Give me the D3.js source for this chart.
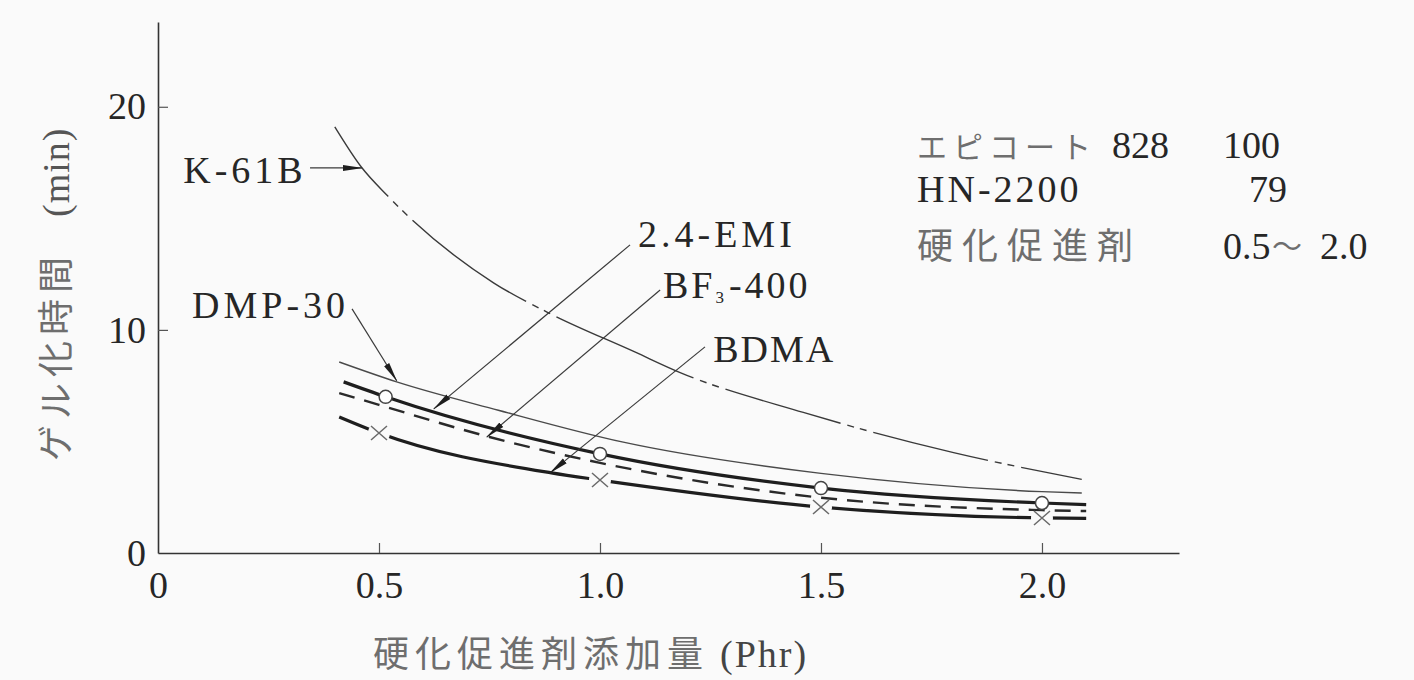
<!DOCTYPE html>
<html>
<head>
<meta charset="utf-8">
<script src="https://cdn.jsdelivr.net/npm/d3@7"></script>
<style>
  html, body { margin: 0; padding: 0; background: #fafafa; }
  svg { display: block; }
</style>
</head>
<body>
<svg id="chart" width="1414" height="680"></svg>
<script>
// Gel time (min) against accelerator loading (phr) for five cure accelerators

const xTicks = [0, 0.5, 1.0, 1.5, 2.0];
const xTickLabels = ["0", "0.5", "1.0", "1.5", "2.0"];
const yTicks = [0, 10, 20];
const yTickLabels = ["0", "10", "20"];

// K-61B (chain line)
const k61bX = [0.40, 0.46, 0.52, 0.76, 0.88, 1.08, 1.18, 1.46, 1.80, 2.09];
const k61bY = [19.1, 17.3, 16.0, 12.1, 10.8, 9.0, 8.1, 6.3, 4.5, 3.3];

// DMP-30 (thin solid)
const dmpX = [0.41, 0.54, 0.77, 1.05, 1.50, 2.00, 2.09];
const dmpY = [8.56, 7.67, 6.40, 4.98, 3.57, 2.75, 2.69];

// 2.4-EMI (heavy solid, open circles)
const emiX = [0.42, 0.515, 1.0, 1.5, 2.0, 2.1];
const emiY = [7.67, 7.0, 4.44, 2.91, 2.24, 2.17];
const emiMarkX = [0.515, 1.0, 1.5, 2.0];
const emiMarkY = [7.0, 4.44, 2.91, 2.24];

// BF3-400 (dashed)
const bf3X = [0.41, 0.50, 0.75, 1.0, 1.5, 2.0, 2.1];
const bf3Y = [7.17, 6.64, 5.2, 4.04, 2.48, 1.92, 1.88];

// BDMA (heavy solid, crosses)
const bdmaX = [0.41, 0.50, 0.89, 1.0, 1.5, 2.0, 2.1];
const bdmaY = [6.1, 5.38, 3.59, 3.27, 2.06, 1.57, 1.55];
const bdmaMarkX = [0.5, 1.0, 1.5, 2.0];
const bdmaMarkY = [5.38, 3.27, 2.06, 1.57];

// Formulation table
const recipeNames = ["エピコート", "HN-2200", "硬化促進剤"];
const recipeNameSuffix = ["828", "", ""];
const recipeAmounts = ["100", "79", "0.5～2.0"];

const serif = "'Liberation Serif', 'DejaVu Serif', serif";
const cjk = "'Noto Sans CJK JP', 'Noto Sans CJK SC', sans-serif";
const ink = "#262626";
const grey = "#6e6e6e";

const svg = d3.select("#chart");
const x = d3.scaleLinear().domain([0, 2.31]).range([158, 1179]);
const y = d3.scaleLinear().domain([0, 23.8]).range([553, 22]);

const zip = (xs, ys) => xs.map((v, i) => [v, ys[i]]);
const line = d3.line().x(d => x(d[0])).y(d => y(d[1])).curve(d3.curveMonotoneX);

// arrowhead for leader lines
const defs = svg.append("defs");
defs.append("marker")
  .attr("id", "arrow")
  .attr("viewBox", "0 0 20 8")
  .attr("refX", 19).attr("refY", 4)
  .attr("markerWidth", 20).attr("markerHeight", 8)
  .attr("markerUnits", "userSpaceOnUse")
  .attr("orient", "auto")
  .append("path")
  .attr("d", "M0,1L20,4L0,7Z")
  .attr("fill", "#1e1e1e");

// gaps in the BDMA line around its crosses
const mask = defs.append("mask")
  .attr("id", "bdmaGaps")
  .attr("maskUnits", "userSpaceOnUse")
  .attr("x", 0).attr("y", 0).attr("width", 1414).attr("height", 680);
mask.append("rect").attr("width", 1414).attr("height", 680).attr("fill", "#fff");
mask.selectAll("circle").data(zip(bdmaMarkX, bdmaMarkY)).join("circle")
  .attr("cx", d => x(d[0])).attr("cy", d => y(d[1])).attr("r", 11).attr("fill", "#000");

// axes
const xAxis = d3.axisBottom(x)
  .tickValues(xTicks)
  .tickFormat((d, i) => xTickLabels[i])
  .tickSizeInner(-10).tickSizeOuter(0).tickPadding(18);
const gx = svg.append("g").attr("transform", `translate(0,${y(0)})`).call(xAxis);

const yAxis = d3.axisLeft(y)
  .tickValues(yTicks)
  .tickFormat((d, i) => yTickLabels[i])
  .tickSizeInner(-10).tickSizeOuter(0).tickPadding(12);
const gy = svg.append("g").attr("transform", `translate(${x(0)},0)`).call(yAxis);

[gx, gy].forEach(g => {
  g.select(".domain").attr("stroke", "#333").attr("stroke-width", 1.6);
  g.selectAll(".tick line").attr("stroke", "#555").attr("stroke-width", 1.2);
  g.selectAll(".tick text")
    .attr("font-family", serif).attr("font-size", 38).attr("fill", ink);
});
gx.selectAll(".tick").filter(d => d === 0).select("line").remove();
gy.selectAll(".tick").filter(d => d === 0).select("line").remove();
gy.selectAll(".tick text").attr("dy", "0.32em");

// curves
svg.append("path").datum(zip(k61bX, k61bY))
  .attr("d", line).attr("fill", "none")
  .attr("stroke", "#3a3a3a").attr("stroke-width", 1.4)
  .attr("stroke-dasharray",
    "88,7,7,6,7,7,140,7,7,6,7,7,150,7,7,6,7,7,120,7,7,6,7,7,118,7,7,6,7,7,300,7");

svg.append("path").datum(zip(dmpX, dmpY))
  .attr("d", line).attr("fill", "none")
  .attr("stroke", "#4a4a4a").attr("stroke-width", 1.4);

svg.append("path").datum(zip(bf3X, bf3Y))
  .attr("d", line).attr("fill", "none")
  .attr("stroke", "#2a2a2a").attr("stroke-width", 2.4)
  .attr("stroke-dasharray", "16,10");

svg.append("path").datum(zip(bdmaX, bdmaY))
  .attr("d", line).attr("fill", "none")
  .attr("stroke", "#1e1e1e").attr("stroke-width", 3.2)
  .attr("mask", "url(#bdmaGaps)");

svg.append("path").datum(zip(emiX, emiY))
  .attr("d", line).attr("fill", "none")
  .attr("stroke", "#1e1e1e").attr("stroke-width", 3.2);

// markers
svg.append("g").selectAll("circle").data(zip(emiMarkX, emiMarkY)).join("circle")
  .attr("cx", d => x(d[0])).attr("cy", d => y(d[1])).attr("r", 6.5)
  .attr("fill", "#fff").attr("stroke", "#444").attr("stroke-width", 1.5);

svg.append("g").selectAll("path").data(zip(bdmaMarkX, bdmaMarkY)).join("path")
  .attr("transform", d => `translate(${x(d[0])},${y(d[1])})`)
  .attr("d", "M-8,-7L8,7M-8,7L8,-7")
  .attr("fill", "none").attr("stroke", "#6a6a6a").attr("stroke-width", 1.5);

// series labels with leader lines (anchored in data units)
const notes = [
  { name: "K-61B", tx: 0.057, ty: 16.6, from: [0.344, 17.26], to: [0.4615, 17.26], ls: 4 },
  { name: "DMP-30", tx: 0.077, ty: 10.54, from: [0.439, 10.94], to: [0.54, 7.72], ls: 4 },
  { name: "2.4-EMI", tx: 1.086, ty: 13.72, from: [1.068, 13.81], to: [0.624, 6.46], ls: 4 },
  { name: "BF3-400", tx: 1.1425, ty: 11.43, from: [1.136, 11.79], to: [0.744, 5.2], ls: 3 },
  { name: "BDMA", tx: 1.256, ty: 8.56, from: [1.2376, 9.24], to: [0.887, 3.59], ls: 2 }
];

svg.append("g").selectAll("line").data(notes).join("line")
  .attr("x1", d => x(d.from[0])).attr("y1", d => y(d.from[1]))
  .attr("x2", d => x(d.to[0])).attr("y2", d => y(d.to[1]))
  .attr("stroke", "#3a3a3a").attr("stroke-width", 1.2)
  .attr("marker-end", "url(#arrow)");

const labels = svg.append("g")
  .attr("font-family", serif).attr("font-size", 38).attr("fill", ink);
notes.forEach(n => {
  const t = labels.append("text")
    .attr("x", x(n.tx)).attr("y", y(n.ty))
    .attr("letter-spacing", n.ls);
  if (n.name === "BF3-400") {
    t.append("tspan").text("BF");
    t.append("tspan").attr("font-size", 17).attr("dy", 5).text("3");
    t.append("tspan").attr("dy", -5).attr("dx", 2).text("-400");
  } else {
    t.text(n.name);
  }
});

// formulation table (top right)
const table = svg.append("g");
const rowBase = [158, 202, 259];
// row 1
const r1 = table.append("text").attr("x", 917).attr("y", rowBase[0]);
r1.append("tspan").attr("font-family", cjk).attr("font-size", 30)
  .attr("letter-spacing", 6).attr("fill", grey).text(recipeNames[0]);
r1.append("tspan").attr("x", 1112).attr("font-family", serif).attr("font-size", 38)
  .attr("fill", ink).text(recipeNameSuffix[0]);
// row 2
table.append("text").attr("x", 917).attr("y", rowBase[1])
  .attr("font-family", serif).attr("font-size", 38).attr("letter-spacing", 3)
  .attr("fill", ink).text(recipeNames[1]);
// row 3
table.append("text").attr("x", 917).attr("y", rowBase[2])
  .attr("font-family", cjk).attr("font-size", 36).attr("letter-spacing", 9)
  .attr("fill", grey).text(recipeNames[2]);

// amounts column
table.append("text").attr("x", 1223).attr("y", rowBase[0])
  .attr("font-family", serif).attr("font-size", 38).attr("fill", ink).text(recipeAmounts[0]);
table.append("text").attr("x", 1287).attr("y", rowBase[1]).attr("text-anchor", "end")
  .attr("font-family", serif).attr("font-size", 38).attr("fill", ink).text(recipeAmounts[1]);
const [lo, hi] = recipeAmounts[2].split("～");
const r3 = table.append("text").attr("x", 1223).attr("y", rowBase[2])
  .attr("font-family", serif).attr("font-size", 38).attr("fill", ink);
r3.append("tspan").text(lo);
r3.append("tspan").attr("x", 1272).attr("font-family", cjk).attr("font-size", 30)
  .attr("fill", grey).attr("dy", -2).text("～");
r3.append("tspan").attr("x", 1320).attr("dy", 2).text(hi);

// axis titles
const yt = svg.append("text").attr("transform", "translate(69,461) rotate(-90)");
yt.append("tspan").attr("font-family", cjk).attr("font-size", 36)
  .attr("letter-spacing", 6).attr("fill", grey).text("ゲル化時間");
yt.append("tspan").attr("x", 244).attr("font-family", serif).attr("font-size", 38)
  .attr("letter-spacing", 1).attr("fill", "#555").text("(min)");

const xt = svg.append("text").attr("x", 373).attr("y", 667);
xt.append("tspan").attr("font-family", cjk).attr("font-size", 36)
  .attr("letter-spacing", 6).attr("fill", grey).text("硬化促進剤添加量");
xt.append("tspan").attr("x", 720).attr("font-family", serif).attr("font-size", 38)
  .attr("letter-spacing", 2).attr("fill", "#444").text("(Phr)");
</script>
</body>
</html>
